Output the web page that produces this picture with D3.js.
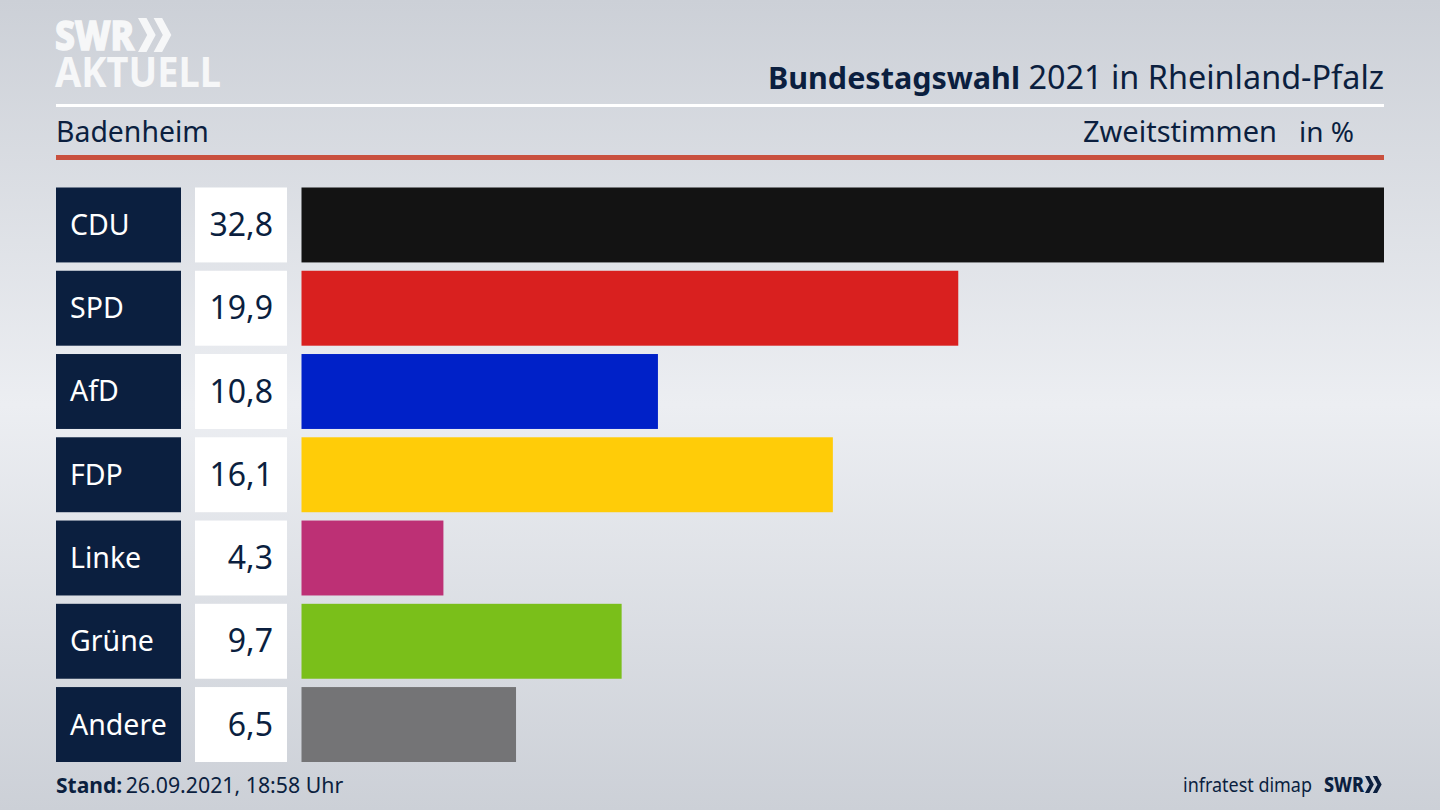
<!DOCTYPE html>
<html lang="de">
<head>
<meta charset="utf-8">
<title>Bundestagswahl 2021 in Rheinland-Pfalz</title>
<script src="https://cdn.jsdelivr.net/npm/d3@7"></script>
<style>
    html, body { margin: 0; padding: 0; background: #dfe1e6; }
    svg { display: block; }
    text { font-family: "Noto Sans", sans-serif; }
</style>
</head>
<body>
<div id="chart"></div>
<script>
const parties = ['CDU', 'SPD', 'AfD', 'FDP', 'Linke', 'Grüne', 'Andere'];
const shares = [32.8, 19.9, 10.8, 16.1, 4.3, 9.7, 6.5];
const partyColors = ['#131313', '#d9201f', '#0021c8', '#ffcc08', '#bd3075', '#7abf1a', '#747476'];

const width = 1440;
const height = 810;
const navy = '#0b1f3f';
const left = 56;
const right = 1384;

const svg = d3.select('#chart')
    .append('svg')
    .attr('width', width)
    .attr('height', height)
    .attr('viewBox', [0, 0, width, height]);

// Background is lightest in the middle and falls off to top and bottom
const grad = svg.append('defs')
    .append('linearGradient')
    .attr('id', 'bg')
    .attr('x1', 0).attr('x2', 0).attr('y1', 0).attr('y2', 1);
grad.selectAll('stop')
    .data([[0, '#ccd0d7'], [0.5, '#eceef2'], [1, '#ccd0d7']])
    .join('stop')
    .attr('offset', d => d[0])
    .attr('stop-color', d => d[1]);
svg.append('rect').attr('width', width).attr('height', height).attr('fill', 'url(#bg)');

// Two chevrons of the SWR logo, s = height of the chevron
function chevrons(g, x, y, s) {
    const w = s * 0.27;
    const t = s * 0.25;
    [0, s * 0.46].forEach(dx => {
        g.append('path')
            .attr('d', d3.line()([
                [x + dx, y], [x + dx + t, y], [x + dx + t + w, y + s / 2],
                [x + dx + t, y + s], [x + dx, y + s], [x + dx + w, y + s / 2]
            ]) + 'Z');
    });
}

// Logo top left, one text with two lines
const logo = svg.append('g').attr('fill', '#f6f7f8');
const logoText = logo.append('text').style('font-size', '41px');
logoText.append('tspan')
    .attr('x', 55).attr('y', 50)
    .style('font-weight', 800)
    .attr('stroke', '#f6f7f8').attr('stroke-width', 1.5)
    .attr('textLength', 79).attr('lengthAdjust', 'spacingAndGlyphs')
    .text('SWR');
logoText.append('tspan')
    .attr('x', 55).attr('y', 87)
    .style('font-weight', 700)
    .attr('textLength', 166).attr('lengthAdjust', 'spacingAndGlyphs')
    .text('AKTUELL');
chevrons(logo, 138, 18, 34);

// Header
const title = svg.append('text')
    .attr('x', right).attr('y', 89)
    .attr('text-anchor', 'end')
    .attr('fill', navy);
title.append('tspan').style('font-size', '30.5px').style('font-weight', 700).text('Bundestagswahl');
title.append('tspan').style('font-size', '32.4px').text(' 2021 in Rheinland-Pfalz');

svg.append('rect').attr('x', left).attr('y', 104).attr('width', right - left).attr('height', 3).attr('fill', '#ffffff');
svg.append('rect').attr('x', left).attr('y', 155).attr('width', right - left).attr('height', 5).attr('fill', '#c9503e');

svg.append('text').attr('x', left).attr('y', 142).attr('fill', navy)
    .style('font-size', '28.4px').text('Badenheim');
svg.append('text').attr('x', 1277).attr('y', 142).attr('text-anchor', 'end').attr('fill', navy)
    .style('font-size', '29px').text('Zweitstimmen');
svg.append('text').attr('x', 1354).attr('y', 142).attr('text-anchor', 'end').attr('fill', navy)
    .style('font-size', '28px').text('in %');

// Scales
const y = d3.scaleBand()
    .domain(parties)
    .range([187.5, 762])
    .paddingInner(0.1);

const x = d3.scaleLinear()
    .domain([0, 32.8])
    .range([301.5, right]);

const fmt = v => d3.format('.1f')(v).replace('.', ',');

const rows = svg.append('g')
    .selectAll('g')
    .data(parties.map((p, i) => ({ party: p, share: shares[i], color: partyColors[i] })))
    .join('g')
    .attr('transform', d => `translate(0,${y(d.party)})`);

rows.append('rect')
    .attr('x', left).attr('width', 125)
    .attr('height', y.bandwidth())
    .attr('fill', navy);

rows.append('text')
    .attr('x', 70).attr('y', y.bandwidth() / 2).attr('dy', '0.35em')
    .attr('fill', '#ffffff')
    .style('font-size', '28.5px')
    .text(d => d.party);

rows.append('rect')
    .attr('x', 195).attr('width', 92)
    .attr('height', y.bandwidth())
    .attr('fill', '#ffffff');

rows.append('text')
    .attr('x', 273).attr('y', y.bandwidth() / 2).attr('dy', '0.35em')
    .attr('text-anchor', 'end')
    .attr('fill', navy)
    .style('font-size', '32px')
    .text(d => fmt(d.share));

rows.append('rect')
    .attr('x', x(0))
    .attr('width', d => x(d.share) - x(0))
    .attr('height', y.bandwidth())
    .attr('fill', d => d.color);

// Footer
const stand = svg.append('text').attr('x', left).attr('y', 793).attr('fill', navy);
stand.append('tspan').style('font-size', '21px').style('font-weight', 700).text('Stand:');
stand.append('tspan').attr('dx', -2).style('font-size', '21.3px').text(' 26.09.2021, 18:58 Uhr');

svg.append('text').attr('x', 1183).attr('y', 792).attr('fill', navy)
    .style('font-size', '20px')
    .attr('textLength', 129).attr('lengthAdjust', 'spacingAndGlyphs')
    .text('infratest dimap');

const swr = svg.append('g').attr('fill', navy);
swr.append('text').attr('x', 1324).attr('y', 792)
    .style('font-size', '21px').style('font-weight', 800)
    .attr('textLength', 40).attr('lengthAdjust', 'spacingAndGlyphs')
    .text('SWR');
chevrons(swr, 1365, 776, 17);
</script>
</body>
</html>
